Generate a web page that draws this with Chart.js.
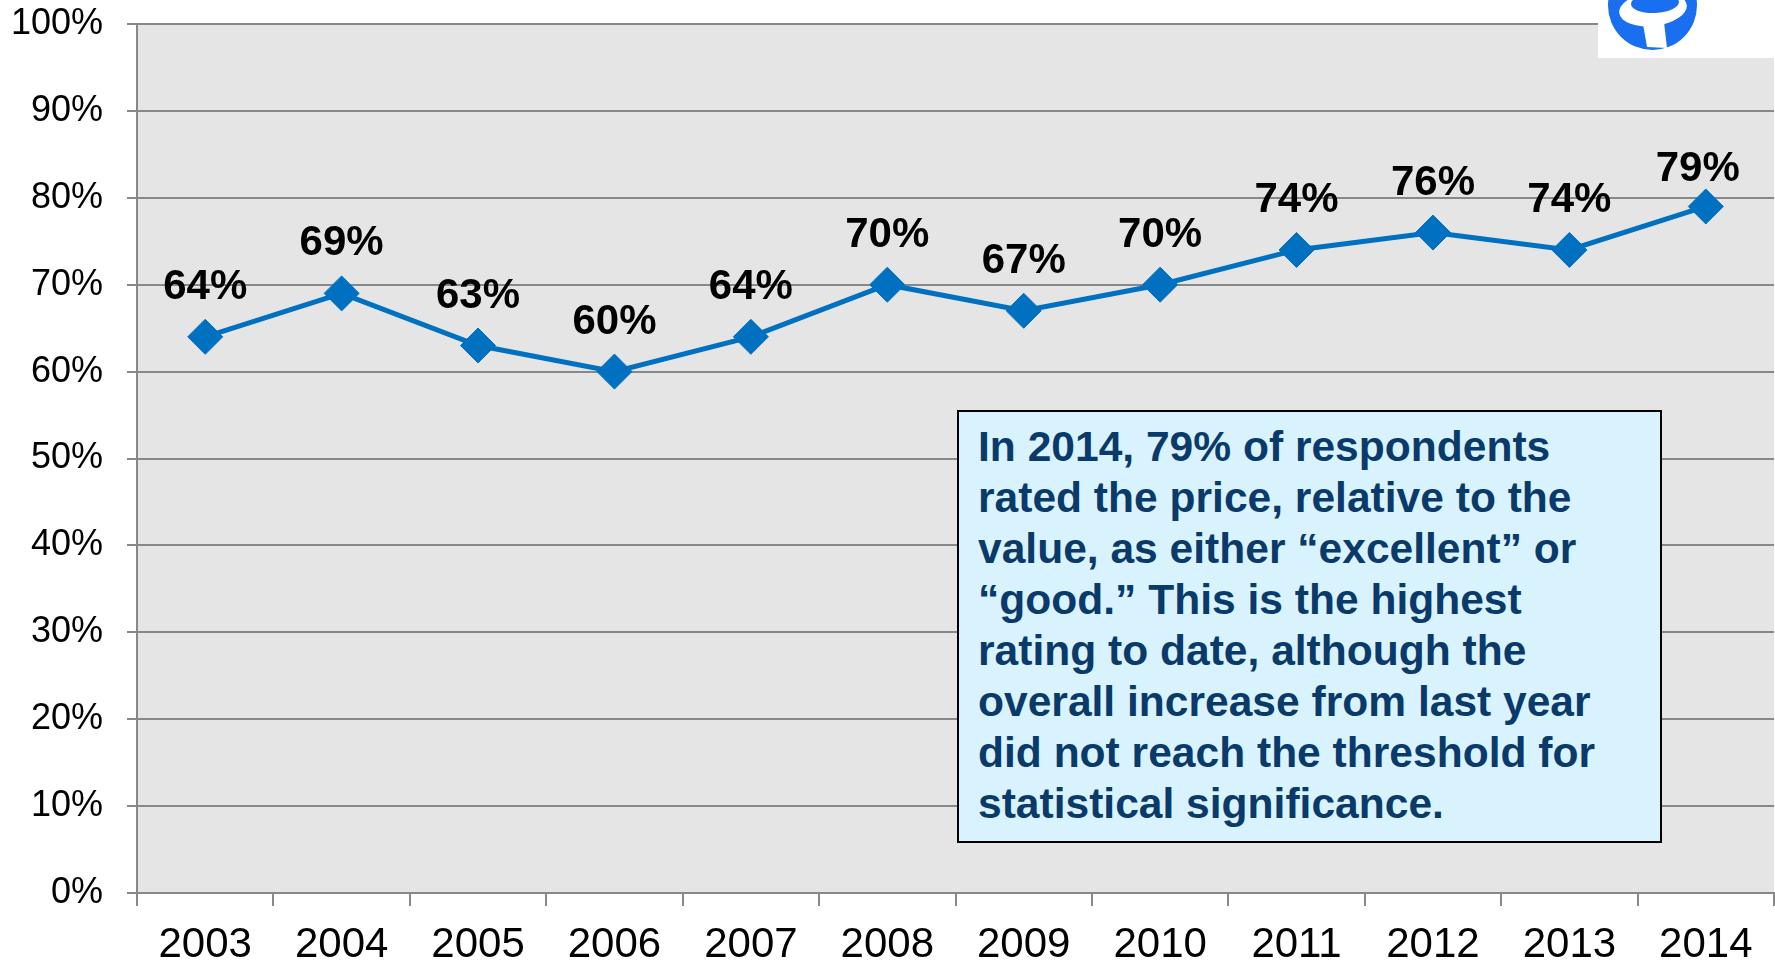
<!DOCTYPE html>
<html>
<head>
<meta charset="utf-8">
<script src="https://cdn.jsdelivr.net/npm/chart.js@4/dist/chart.umd.min.js"></script>
<style>
  html, body { margin: 0; padding: 0; background: #ffffff; }
  #wrap { position: relative; width: 1775px; height: 963px; overflow: hidden; }
  #c { position: absolute; left: 0; top: 0; }
  #note {
    position: absolute; left: 957px; top: 410px; width: 705px; height: 433px;
    box-sizing: border-box; border: 2px solid #000; background: #d9f3fe;
  }
  #noteText {
    position: absolute; left: 978px; top: 421px;
    font-family: "Liberation Sans", Arial, Helvetica, sans-serif;
    font-weight: bold; font-size: 43px; line-height: 51px; color: #0a3a6a;
    white-space: nowrap; transform-origin: 0 0;
  }
  #noteText div { white-space: nowrap; }
</style>
</head>
<body>
<div id="wrap">
  <canvas id="c" width="1775" height="963"></canvas>
  <div id="note"></div>
  <div id="noteText">
    <div>In 2014, 79% of respondents</div>
    <div>rated the price, relative to the</div>
    <div>value, as either “excellent” or</div>
    <div>“good.” This is the highest</div>
    <div>rating to date, although the</div>
    <div>overall increase from last year</div>
    <div><span id="longLine">did not reach the threshold for</span></div>
    <div>statistical significance.</div>
  </div>
</div>
<script>
// ---- data ----
const years = ['2003','2004','2005','2006','2007','2008','2009','2010','2011','2012','2013','2014'];
const ratingValues = [64, 69, 63, 60, 64, 70, 67, 70, 74, 76, 74, 79];
const yTickValues = [0, 10, 20, 30, 40, 50, 60, 70, 80, 90, 100];

// ---- styles ----
const FONT = '"Liberation Sans", Arial, Helvetica, sans-serif';
const GRID = '#888888';
const LINE_BLUE = '#0070c0';
const labelNudge = { 11: { dx: -8, dy: 13 } };

// scale the note text horizontally to the reference width (condensed look)
(function fitNote() {
  const t = document.getElementById('noteText');
  const l = document.getElementById('longLine');
  const w = l.getBoundingClientRect().width;
  const target = 617;
  if (w > 0) t.style.transform = 'scaleX(' + (target / w) + ')';
})();

const plotBg = {
  id: 'plotBg',
  beforeDraw(chart) {
    const { ctx, chartArea: a } = chart;
    ctx.save();
    ctx.fillStyle = '#e5e5e5';
    ctx.fillRect(a.left, a.top, a.right - a.left, a.bottom - a.top);
    ctx.restore();
  }
};

const valueLabels = {
  id: 'valueLabels',
  afterDatasetsDraw(chart) {
    const { ctx } = chart;
    const meta = chart.getDatasetMeta(0);
    ctx.save();
    ctx.font = 'bold 42px ' + FONT;
    ctx.fillStyle = '#000';
    ctx.textAlign = 'center';
    ctx.textBaseline = 'alphabetic';
    meta.data.forEach((pt, i) => {
      const n = labelNudge[i] || { dx: 0, dy: 0 };
      ctx.fillText(ratingValues[i] + '%', pt.x + n.dx, pt.y - 38 + n.dy);
    });
    ctx.restore();
  }
};

const logo = {
  id: 'logo',
  afterDraw(chart) {
    const { ctx } = chart;
    ctx.save();
    ctx.fillStyle = '#ffffff';
    ctx.fillRect(1598, 0, 177, 58);
    ctx.fillStyle = '#1a6ff0';
    ctx.beginPath(); ctx.arc(1652.5, 5.5, 44.5, 0, Math.PI * 2); ctx.fill();
    ctx.fillStyle = '#ffffff';
    ctx.beginPath(); ctx.ellipse(1653, 9, 34, 17, -0.12, 0, Math.PI * 2); ctx.fill();
    ctx.fillStyle = '#1a6ff0';
    ctx.beginPath(); ctx.ellipse(1655, 3, 24, 10, -0.05, 0, Math.PI * 2); ctx.fill();
    ctx.fillStyle = '#ffffff';
    ctx.beginPath();
    ctx.moveTo(1643, 24); ctx.lineTo(1664, 22); ctx.lineTo(1667, 48); ctx.lineTo(1647, 47);
    ctx.closePath(); ctx.fill();
    ctx.restore();
  }
};

new Chart(document.getElementById('c'), {
  type: 'line',
  data: {
    labels: years,
    datasets: [{
      data: ratingValues,
      borderColor: LINE_BLUE,
      backgroundColor: LINE_BLUE,
      borderWidth: 5,
      pointStyle: 'rectRot',
      pointRadius: 17.5,
      pointHoverRadius: 17.5,
      pointBackgroundColor: LINE_BLUE,
      pointBorderColor: LINE_BLUE,
      pointBorderWidth: 1,
      tension: 0,
      fill: false
    }]
  },
  options: {
    responsive: false,
    animation: false,
    devicePixelRatio: 1,
    layout: { autoPadding: false, padding: { top: 24, right: 1, left: 0, bottom: 0 } },
    plugins: { legend: { display: false }, tooltip: { enabled: false }, title: { display: false } },
    scales: {
      x: {
        type: 'category',
        offset: true,
        grid: { offset: true, drawOnChartArea: false, drawTicks: true, tickLength: 13, color: GRID, lineWidth: 2 },
        border: { display: true, color: GRID, width: 2 },
        ticks: { color: '#000', font: { family: FONT, size: 42 }, padding: 14, maxRotation: 0, autoSkip: false },
        afterFit(s) { s.height = 70; s.paddingLeft = 0; s.paddingRight = 0; }
      },
      y: {
        min: 0, max: 100,
        afterBuildTicks(s) { s.ticks = yTickValues.map(v => ({ value: v })); },
        grid: { color: GRID, lineWidth: 2, drawTicks: true, tickLength: 10 },
        border: { display: true, color: GRID, width: 2 },
        ticks: { color: '#000', font: { family: FONT, size: 36 }, padding: 24, callback: v => v + '%' },
        afterFit(s) { s.width = 137; s.paddingTop = 0; s.paddingBottom = 0; }
      }
    }
  },
  plugins: [plotBg, valueLabels, logo]
});
</script>
</body>
</html>
